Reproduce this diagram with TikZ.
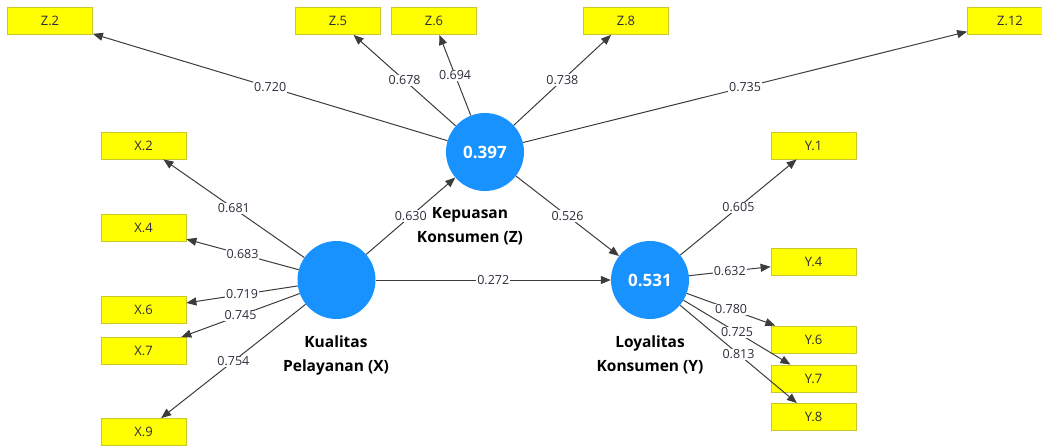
\documentclass[tikz,border=0pt]{standalone}
\usepackage{fontspec}
\setmainfont{Open Sans}
\usetikzlibrary{arrows.meta}
\definecolor{lvblue}{RGB}{24,146,255}
\definecolor{indyellow}{RGB}{255,255,0}
\definecolor{indedge}{RGB}{200,200,40}
\definecolor{linegray}{RGB}{60,60,60}
\definecolor{txtgray}{RGB}{45,45,60}
\begin{document}
\begin{tikzpicture}[
    x=1pt, y=-1pt,
    latent/.style={circle, fill=lvblue, draw=none, minimum size=78pt, inner sep=0pt,
        text=white, font=\fontsize{17}{19}\selectfont\bfseries},
    indicator/.style={rectangle, fill=indyellow, draw=indedge, line width=0.8pt,
        minimum width=85pt, minimum height=27pt, inner sep=0pt, text=txtgray,
        font=\fontsize{13}{15}\selectfont},
    title/.style={align=center, text=black, font=\fontsize{15.5}{24}\selectfont\bfseries},
    path/.style={draw=linegray, line width=1pt, -{Triangle[length=10pt,width=8pt]}},
    coef/.style={fill=white, inner sep=1pt, text=txtgray, font=\fontsize{12.5}{14}\selectfont}
]
\useasboundingbox (0,0) rectangle (1042,445);
% latent variables
\node[latent] (Z) at (485,152) {0.397};
\node[latent] (X) at (336.5,280) {};
\node[latent] (Y) at (650,280) {0.531};
\node[title] (Zt) at (470,226) {Kepuasan\\Konsumen (Z)};
\node[title] (Xt) at (336,355) {Kualitas\\Pelayanan (X)};
\node[title] (Yt) at (650,355) {Loyalitas\\Konsumen (Y)};
% indicators
\node[indicator] (Z2) at (50,21) {Z.2};
\node[indicator] (Z5) at (338,21) {Z.5};
\node[indicator] (Z6) at (434,21) {Z.6};
\node[indicator] (Z8) at (626,21) {Z.8};
\node[indicator] (Z12) at (1010,21) {Z.12};
\node[indicator] (X2) at (143.5,145.5) {X.2};
\node[indicator] (X4) at (143.5,227.5) {X.4};
\node[indicator] (X6) at (143.5,309.5) {X.6};
\node[indicator] (X7) at (143.5,351) {X.7};
\node[indicator] (X9) at (143.5,432) {X.9};
\node[indicator] (Y1) at (813.5,145.5) {Y.1};
\node[indicator] (Y4) at (813.5,262) {Y.4};
\node[indicator] (Y6) at (813.5,339.5) {Y.6};
\node[indicator] (Y7) at (813.5,378.5) {Y.7};
\node[indicator] (Y8) at (813.5,417) {Y.8};
% outer loadings
\draw[path] (Z) -- node[coef] {0.720} (Z2);
\draw[path] (Z) -- node[coef] {0.678} (Z5);
\draw[path] (Z) -- node[coef] {0.694} (Z6);
\draw[path] (Z) -- node[coef] {0.738} (Z8);
\draw[path] (Z) -- node[coef] {0.735} (Z12);
\draw[path] (X) -- node[coef] {0.681} (X2);
\draw[path] (X) -- node[coef] {0.683} (X4);
\draw[path] (X) -- node[coef] {0.719} (X6);
\draw[path] (X) -- node[coef] {0.745} (X7);
\draw[path] (X) -- node[coef] {0.754} (X9);
\draw[path] (Y) -- node[coef] {0.605} (Y1);
\draw[path] (Y) -- node[coef] {0.632} (Y4);
\draw[path] (Y) -- node[coef] {0.780} (Y6);
\draw[path] (Y) -- node[coef] {0.725} (Y7);
\draw[path] (Y) -- node[coef] {0.813} (Y8);
% path coefficients
\draw[path] (X) -- node[coef] {0.630} (Z);
\draw[path] (X) -- node[coef] {0.272} (Y);
\draw[path] (Z) -- node[coef] {0.526} (Y);
\end{tikzpicture}
\end{document}
